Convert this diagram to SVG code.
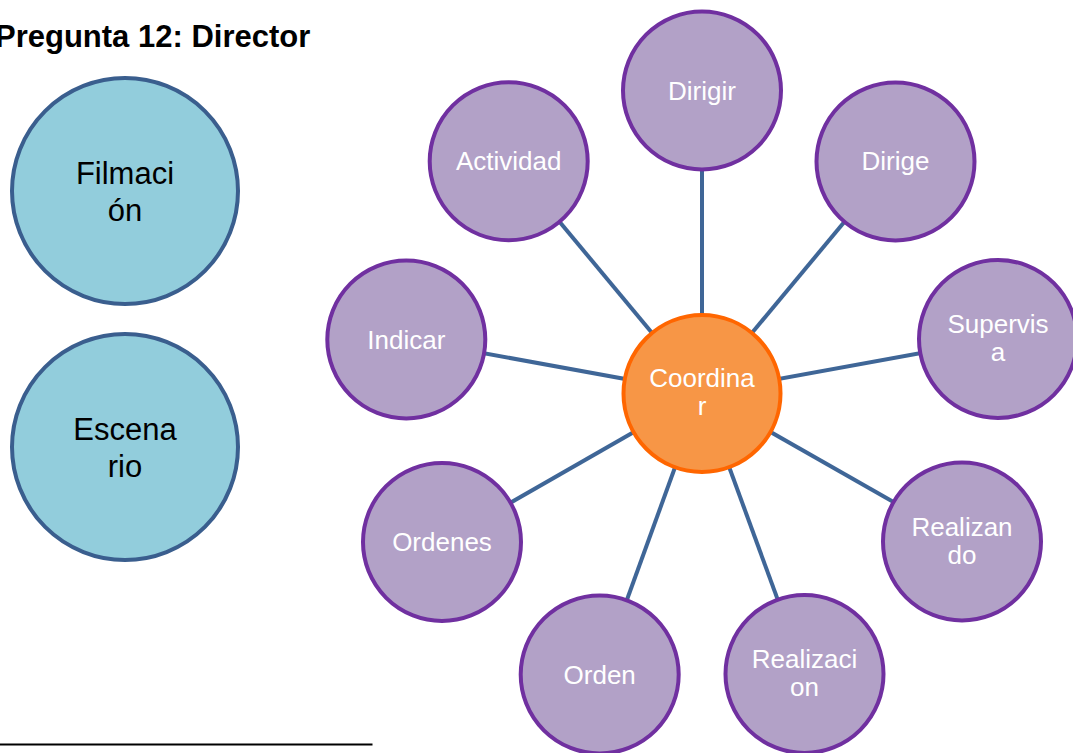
<svg xmlns="http://www.w3.org/2000/svg" width="1073" height="753" viewBox="0 0 1073 753">
<style>
.t{font-family:"Liberation Sans",Arial,sans-serif;text-anchor:middle}
.w{fill:#ffffff;font-size:26px}
.b{fill:#000000;font-size:31px}
.p{fill:#B2A1C7;stroke:#7030A0;stroke-width:4}
.c{fill:#92CDDC;stroke:#3A5E8E;stroke-width:4}
.o{fill:#F79646;stroke:#FF6600;stroke-width:4}
.ln{stroke:#3F6697;stroke-width:4;fill:none}
</style>
<rect width="1073" height="753" fill="#ffffff"/>
<text x="-5" y="47" font-family="'Liberation Sans',Arial,sans-serif" font-weight="bold" font-size="31" fill="#000">Pregunta 12: Director</text>
<g id="connectors">
<line class="ln" x1="702" y1="393" x2="702" y2="90"/>
<line class="ln" x1="702" y1="393" x2="895" y2="161"/>
<line class="ln" x1="702" y1="393" x2="998" y2="339"/>
<line class="ln" x1="702" y1="393" x2="962" y2="541"/>
<line class="ln" x1="702" y1="393" x2="805" y2="674"/>
<line class="ln" x1="702" y1="393" x2="600" y2="674"/>
<line class="ln" x1="702" y1="393" x2="442" y2="542"/>
<line class="ln" x1="702" y1="393" x2="406" y2="339"/>
<line class="ln" x1="702" y1="393" x2="509" y2="161"/>
</g>
<g id="filmacion"><circle class="c" cx="125" cy="191" r="113"/><text class="t b" x="125" y="184">Filmaci</text><text class="t b" x="125" y="221">ón</text></g>
<g id="escenario"><circle class="c" cx="125" cy="447" r="113"/><text class="t b" x="125" y="440">Escena</text><text class="t b" x="125" y="477">rio</text></g>
<g id="coordinar"><circle class="o" cx="702" cy="393.5" r="78.5"/><text class="t w" x="702" y="387">Coordina</text><text class="t w" x="702" y="415">r</text></g>
<g id="dirigir"><circle class="p" cx="702" cy="90.5" r="79"/><text class="t w" x="702" y="99.5">Dirigir</text></g>
<g id="dirige"><circle class="p" cx="895.5" cy="161.5" r="79"/><text class="t w" x="895.5" y="170">Dirige</text></g>
<g id="supervisa"><circle class="p" cx="998" cy="339" r="79"/><text class="t w" x="998" y="333">Supervis</text><text class="t w" x="998" y="361">a</text></g>
<g id="realizando"><circle class="p" cx="962" cy="541.5" r="79"/><text class="t w" x="962" y="535.5">Realizan</text><text class="t w" x="962" y="563.5">do</text></g>
<g id="realizacion"><circle class="p" cx="804.5" cy="674" r="79"/><text class="t w" x="804.5" y="668">Realizaci</text><text class="t w" x="804.5" y="696">on</text></g>
<g id="orden"><circle class="p" cx="599.7" cy="674.5" r="79"/><text class="t w" x="599.7" y="683.5">Orden</text></g>
<g id="ordenes"><circle class="p" cx="442" cy="542" r="79"/><text class="t w" x="442" y="551">Ordenes</text></g>
<g id="indicar"><circle class="p" cx="406.3" cy="339.5" r="79"/><text class="t w" x="406.3" y="348.5">Indicar</text></g>
<g id="actividad"><circle class="p" cx="508.7" cy="161.3" r="79"/><text class="t w" x="508.7" y="170">Actividad</text></g>
<line x1="0" y1="744.5" x2="372.5" y2="744.5" stroke="#000" stroke-width="2.2"/>
</svg>
